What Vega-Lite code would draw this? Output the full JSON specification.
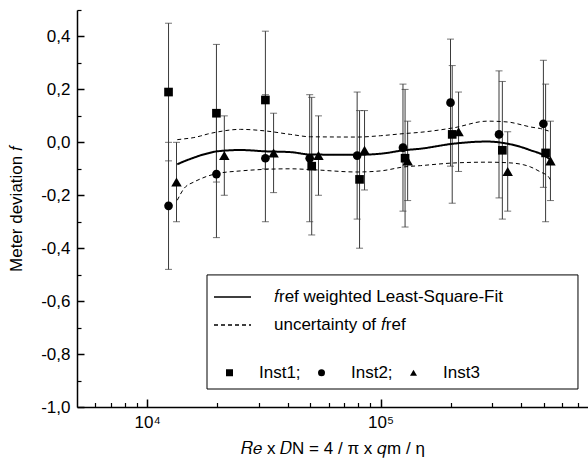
{
  "$schema": "https://vega.github.io/schema/vega-lite/v6.json",
  "width": 511,
  "height": 397,
  "autosize": {"type": "none"},
  "padding": {"left": 77, "top": 10, "right": 0, "bottom": 61},
  "background": "white",
  "config": {
    "view": {"stroke": null},
    "font": "Liberation Sans",
    "axis": {"grid": false, "domainColor": "black", "tickColor": "black", "labelColor": "black", "titleColor": "black", "labelFont": "Liberation Sans", "titleFont": "Liberation Sans", "titleFontWeight": "normal"},
    "legend": {"labelFont": "Liberation Sans", "labelColor": "black", "labelLimit": 400}
  },
  "datasets": {
    "pts": [
      {"inst": "Inst1", "x": 12340, "f": 0.19, "lo": -0.07, "hi": 0.45},
      {"inst": "Inst1", "x": 19800, "f": 0.11, "lo": -0.15, "hi": 0.37},
      {"inst": "Inst1", "x": 32100, "f": 0.16, "lo": -0.10, "hi": 0.42},
      {"inst": "Inst1", "x": 50700, "f": -0.09, "lo": -0.35, "hi": 0.17},
      {"inst": "Inst1", "x": 81300, "f": -0.14, "lo": -0.40, "hi": 0.12},
      {"inst": "Inst1", "x": 127400, "f": -0.06, "lo": -0.32, "hi": 0.20},
      {"inst": "Inst1", "x": 202900, "f": 0.03, "lo": -0.23, "hi": 0.29},
      {"inst": "Inst1", "x": 332800, "f": -0.03, "lo": -0.29, "hi": 0.23},
      {"inst": "Inst1", "x": 510000, "f": -0.04, "lo": -0.30, "hi": 0.22},
      {"inst": "Inst2", "x": 12340, "f": -0.24, "lo": -0.48, "hi": 0.00},
      {"inst": "Inst2", "x": 19800, "f": -0.12, "lo": -0.36, "hi": 0.12},
      {"inst": "Inst2", "x": 32100, "f": -0.06, "lo": -0.30, "hi": 0.18},
      {"inst": "Inst2", "x": 49700, "f": -0.06, "lo": -0.30, "hi": 0.18},
      {"inst": "Inst2", "x": 79400, "f": -0.05, "lo": -0.29, "hi": 0.19},
      {"inst": "Inst2", "x": 124800, "f": -0.02, "lo": -0.26, "hi": 0.22},
      {"inst": "Inst2", "x": 199500, "f": 0.15, "lo": -0.09, "hi": 0.39},
      {"inst": "Inst2", "x": 322000, "f": 0.03, "lo": -0.21, "hi": 0.27},
      {"inst": "Inst2", "x": 499000, "f": 0.07, "lo": -0.17, "hi": 0.31},
      {"inst": "Inst3", "x": 13350, "f": -0.15, "lo": -0.30, "hi": 0.00},
      {"inst": "Inst3", "x": 21400, "f": -0.05, "lo": -0.20, "hi": 0.10},
      {"inst": "Inst3", "x": 34800, "f": -0.04, "lo": -0.19, "hi": 0.11},
      {"inst": "Inst3", "x": 54200, "f": -0.05, "lo": -0.20, "hi": 0.10},
      {"inst": "Inst3", "x": 85400, "f": -0.03, "lo": -0.18, "hi": 0.12},
      {"inst": "Inst3", "x": 130700, "f": -0.07, "lo": -0.22, "hi": 0.08},
      {"inst": "Inst3", "x": 216000, "f": 0.04, "lo": -0.11, "hi": 0.19},
      {"inst": "Inst3", "x": 350800, "f": -0.11, "lo": -0.26, "hi": 0.04},
      {"inst": "Inst3", "x": 535000, "f": -0.07, "lo": -0.22, "hi": 0.08}
    ],
    "fit": [
      {"x": 13450, "fit": -0.083, "up": 0.010, "lo": -0.219},
      {"x": 14360, "fit": -0.072, "up": 0.013, "lo": -0.175},
      {"x": 15840, "fit": -0.058, "up": 0.018, "lo": -0.150},
      {"x": 16930, "fit": -0.049, "up": 0.024, "lo": -0.138},
      {"x": 18080, "fit": -0.042, "up": 0.031, "lo": -0.128},
      {"x": 19950, "fit": -0.034, "up": 0.039, "lo": -0.118},
      {"x": 25100, "fit": -0.029, "up": 0.049, "lo": -0.108},
      {"x": 32140, "fit": -0.034, "up": 0.043, "lo": -0.102},
      {"x": 41120, "fit": -0.037, "up": 0.030, "lo": -0.100},
      {"x": 50100, "fit": -0.046, "up": 0.021, "lo": -0.103},
      {"x": 79450, "fit": -0.047, "up": 0.020, "lo": -0.112},
      {"x": 100000, "fit": -0.043, "up": 0.025, "lo": -0.108},
      {"x": 125900, "fit": -0.030, "up": 0.033, "lo": -0.093},
      {"x": 148500, "fit": -0.024, "up": 0.038, "lo": -0.088},
      {"x": 206000, "fit": -0.005, "up": 0.055, "lo": -0.078},
      {"x": 286600, "fit": 0.003, "up": 0.080, "lo": -0.075},
      {"x": 349200, "fit": -0.005, "up": 0.077, "lo": -0.077},
      {"x": 411500, "fit": -0.021, "up": 0.064, "lo": -0.085},
      {"x": 439500, "fit": -0.030, "up": 0.058, "lo": -0.093},
      {"x": 485000, "fit": -0.043, "up": 0.052, "lo": -0.112},
      {"x": 524800, "fit": -0.060, "up": 0.043, "lo": -0.130},
      {"x": 540000, "fit": -0.068, "up": 0.040, "lo": -0.150}
    ]
  },
  "resolve": {"axis": {"x": "independent", "y": "independent"}},
  "layer": [
    {
      "data": {"values": [{}]},
      "mark": {"type": "rect", "fill": "white", "stroke": "black", "strokeWidth": 1},
      "encoding": {
        "x": {"datum": 18040, "type": "quantitative", "scale": {"type": "log", "domain": [5000, 775000], "nice": false}, "axis": null},
        "x2": {"datum": 702000},
        "y": {"datum": -0.501, "type": "quantitative", "scale": {"domain": [-1, 0.5], "nice": false, "zero": false}, "axis": null},
        "y2": {"datum": -0.932}
      }
    },
    {
      "data": {"name": "pts"},
      "mark": {"type": "errorbar", "ticks": {"size": 7}, "color": "#3a3a3a", "thickness": 1},
      "encoding": {
        "x": {"field": "x", "type": "quantitative", "scale": {"type": "log", "domain": [5000, 775000], "nice": false}, "axis": null},
        "y": {"field": "lo", "type": "quantitative", "scale": {"domain": [-1, 0.5], "nice": false, "zero": false}, "axis": null},
        "y2": {"field": "hi"}
      }
    },
    {
      "data": {"name": "fit"},
      "mark": {"type": "line", "color": "black", "strokeWidth": 2, "interpolate": "monotone"},
      "encoding": {
        "x": {"field": "x", "type": "quantitative", "scale": {"type": "log", "domain": [5000, 775000], "nice": false},
          "axis": {"orient": "bottom", "values": [10000, 100000], "labelExpr": "datum.value == 10000 ? '10⁴' : '10⁵'", "tickSize": -8, "tickWidth": 1.5, "domainWidth": 1.5, "labelFontSize": 17, "labelPadding": 15, "title": "𝑅𝑒 x 𝐷N = 4 / π x 𝑞m / η", "titleFontSize": 17, "titlePadding": 10}},
        "y": {"field": "fit", "type": "quantitative", "scale": {"domain": [-1, 0.5], "nice": false, "zero": false},
          "axis": {"orient": "left", "values": [-1, -0.8, -0.6, -0.4, -0.2, 0, 0.2, 0.4], "labelExpr": "replace(replace(format(datum.value, '.1f'), '.', ','), '−', '-')", "tickSize": -7, "tickWidth": 1.5, "domainWidth": 1.5, "labelFontSize": 17, "labelPadding": 14, "title": "Meter deviation 𝑓", "titleFontSize": 17, "titlePadding": 15}},
        "strokeDash": {"datum": "𝑓ref weighted Least-Square-Fit", "scale": {"domain": ["𝑓ref weighted Least-Square-Fit", "uncertainty of 𝑓ref"], "range": [[1, 0], [4, 3]]},
          "legend": {"orient": "none", "legendX": 136, "legendY": 267.5, "title": null, "symbolType": "stroke", "symbolSize": 1369, "symbolStrokeWidth": 1.5, "symbolStrokeColor": "black", "labelFontSize": 17, "labelOffset": 22, "rowPadding": -10, "padding": 0}}
      }
    },
    {
      "data": {"name": "fit"},
      "mark": {"type": "line", "color": "black", "strokeWidth": 1, "interpolate": "monotone"},
      "encoding": {
        "x": {"field": "x", "type": "quantitative", "scale": {"type": "log", "domain": [5000, 775000], "nice": false}, "axis": null},
        "y": {"field": "up", "type": "quantitative", "scale": {"domain": [-1, 0.5], "nice": false, "zero": false}, "axis": null},
        "strokeDash": {"datum": "uncertainty of 𝑓ref"}
      }
    },
    {
      "data": {"name": "fit"},
      "mark": {"type": "line", "color": "black", "strokeWidth": 1, "interpolate": "monotone"},
      "encoding": {
        "x": {"field": "x", "type": "quantitative", "scale": {"type": "log", "domain": [5000, 775000], "nice": false}, "axis": null},
        "y": {"field": "lo", "type": "quantitative", "scale": {"domain": [-1, 0.5], "nice": false, "zero": false}, "axis": null},
        "strokeDash": {"datum": "uncertainty of 𝑓ref"}
      }
    },
    {
      "data": {"name": "pts"},
      "transform": [{"filter": "datum.inst != 'Inst3'"}],
      "mark": {"type": "point", "filled": true, "color": "black", "opacity": 1, "size": 75},
      "encoding": {
        "x": {"field": "x", "type": "quantitative", "scale": {"type": "log", "domain": [5000, 775000], "nice": false},
          "axis": {"orient": "bottom", "values": [6000, 7000, 8000, 9000, 20000, 30000, 40000, 50000, 60000, 70000, 80000, 90000, 200000, 300000, 400000, 500000, 600000, 700000], "labels": false, "domain": false, "tickSize": -4.5, "tickWidth": 1.2, "title": null}},
        "y": {"field": "f", "type": "quantitative", "scale": {"domain": [-1, 0.5], "nice": false, "zero": false},
          "axis": {"orient": "left", "values": [-0.9, -0.7, -0.5, -0.3, -0.1, 0.1, 0.3, 0.5], "labels": false, "domain": false, "tickSize": -4, "tickWidth": 1.2, "title": null}},
        "shape": {"field": "inst", "type": "nominal", "scale": {"domain": ["Inst1", "Inst2", "Inst3"], "range": ["square", "circle", "triangle-up"]},
          "legend": {"orient": "none", "legendX": 144, "legendY": 354, "direction": "horizontal", "title": null, "symbolSize": 49, "symbolFillColor": "black", "symbolStrokeWidth": 0, "labelFontSize": 17, "labelOffset": 21, "columnPadding": 12, "padding": 0, "labelExpr": "datum.label == 'Inst3' ? datum.label : datum.label + ';'"}}
      }
    },
    {
      "data": {"name": "pts"},
      "transform": [{"filter": "datum.inst == 'Inst3'"}],
      "mark": {"type": "point", "filled": true, "color": "black", "opacity": 1, "size": 110},
      "encoding": {
        "x": {"field": "x", "type": "quantitative", "scale": {"type": "log", "domain": [5000, 775000], "nice": false}, "axis": null},
        "y": {"field": "f", "type": "quantitative", "scale": {"domain": [-1, 0.5], "nice": false, "zero": false}, "axis": null},
        "shape": {"field": "inst", "type": "nominal", "scale": {"domain": ["Inst1", "Inst2", "Inst3"], "range": ["square", "circle", "triangle-up"]}}
      }
    }
  ]
}
